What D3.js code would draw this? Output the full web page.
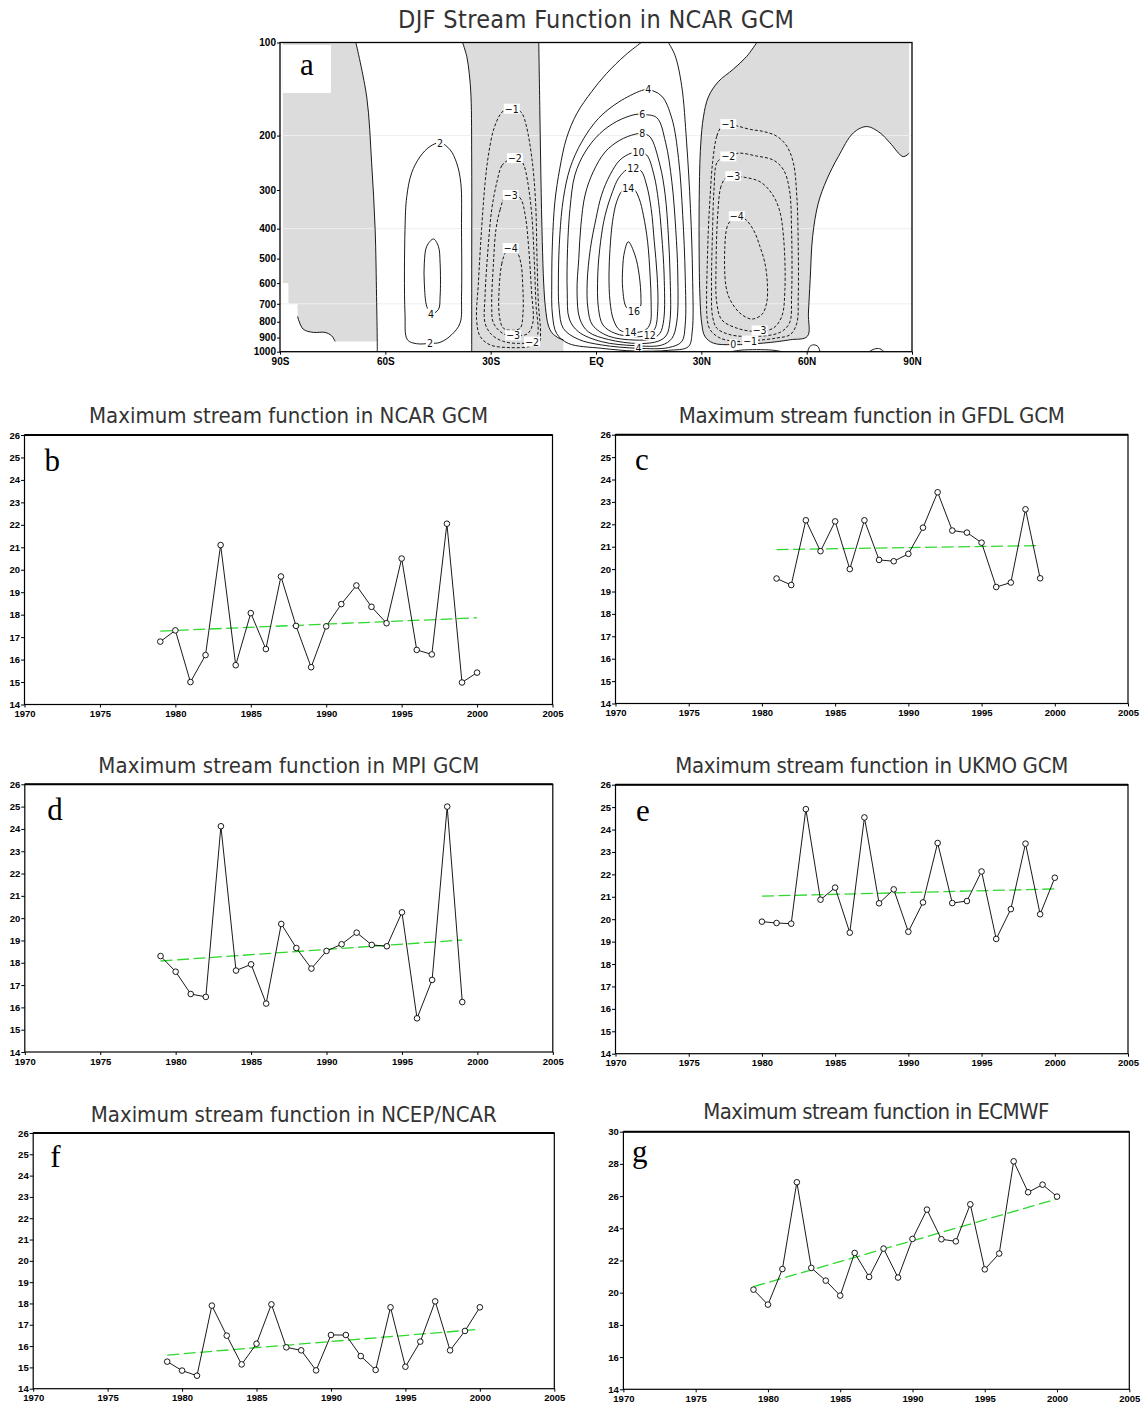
<!DOCTYPE html>
<html>
<head>
<meta charset="utf-8">
<script src="https://cdn.jsdelivr.net/npm/d3@7"></script>
<style>
  body { margin: 0; background: #fff; }
  svg { display: block; }
</style>
</head>
<body>
<svg id="chart" width="1143" height="1406"></svg>
<script>
// ---------------------------------------------------------------
// Panel a: DJF zonal-mean stream function (lat, hPa) contour traces
// ---------------------------------------------------------------
const latTicks = [-90, -60, -30, 0, 30, 60, 90];
const latTickLabels = ["90S", "60S", "30S", "EQ", "30N", "60N", "90N"];
const pressureTicks = [100, 200, 300, 400, 500, 600, 700, 800, 900, 1000];
const pressureGrid = [200, 400, 700];

// zero lines
const shPolarZero = [[-68.4,100],[-65.3,150],[-63.9,245],[-62.9,403],[-62.5,662],[-62.3,926],[-62.3,1000]];
const shPolarSurface = [[-85.0,769],[-83.4,845],[-80.5,866],[-77.2,866],[-75.3,888],[-74.3,926]];
const shPolarTerrain = [[-85.0,700],[-87.6,700],[-87.6,600],[-89.2,600],[-89.2,100]];
const sh30Left = [[-38.0,100],[-36.8,111],[-36.1,126],[-35.6,150],[-35.4,245],[-35.4,600],[-35.4,1000]];
const sh30Right = [[-16.3,100],[-16.0,165],[-15.7,270],[-15.3,440],[-14.9,600],[-14.4,720],[-13.6,820],[-12.5,870],[-10.5,905],[-9.3,915]];
const sh30Surface = [[-9.3,1000]];
const nhZero = [[45.8,100],[42.9,111],[39.1,122],[34.8,134],[32.0,150],[30.6,174],[29.8,216],[29.4,315],[29.4,517],[29.6,662],[30.1,808],[31.0,892],[33.4,938],[39.1,949],[47.7,938],[55.3,915],[60.2,892],[60.5,750],[61.0,585],[61.7,424],[63.3,331],[65.7,278],[69.0,234],[73.3,196],[77.1,187],[80.9,196],[83.7,211],[87.5,234],[89.2,228]];
const nhPoleEdge = [[89.2,100]];
const nhSurface1 = [[60.3,1000],[60.9,962],[62.0,950],[63.2,962],[63.8,1000]];
const nhSurface2 = [[77.8,1000],[79.3,980],[80.8,978],[82.0,1000]];
const nhSurface3 = [[38.5,1000],[41.5,988],[50.0,988],[53.0,1000]];

// southern positive cell
const sh2 = [[-51.1,942],[-53.7,915],[-54.4,750],[-54.4,403],[-53.9,315],[-52.5,264],[-50.1,234],[-47.3,217],[-44.4,211],[-41.6,222],[-39.7,245],[-38.5,285],[-38.3,403],[-38.3,662],[-38.7,807],[-41.1,881],[-44.4,933],[-47.3,940]];
const sh4 = [[-46.3,432],[-44.9,456],[-44.4,517],[-44.4,662],[-44.9,731],[-47.0,754],[-48.2,714],[-48.9,600],[-48.9,517],[-48.2,456]];

// southern subtropical negative cell
const sh30m1 = [[-25.9,165],[-27.3,171],[-29.2,192],[-30.7,234],[-31.6,285],[-32.6,403],[-33.5,600],[-34.0,788],[-33.0,892],[-30.2,950],[-24.5,970],[-18.8,962],[-16.2,935],[-15.8,870],[-16.4,700],[-16.8,500],[-17.2,330],[-18.2,240],[-19.8,187],[-21.0,170],[-22.2,165],[-24.0,164]];
const sh30m2 = [[-25.0,240],[-26.8,250],[-28.3,285],[-29.7,347],[-30.7,457],[-31.6,662],[-31.6,808],[-29.7,881],[-26.4,926],[-22.1,940],[-17.8,926],[-16.6,880],[-17.1,700],[-17.6,500],[-18.3,360],[-19.5,280],[-20.5,250],[-21.5,240],[-23.1,237]];
const sh30m3 = [[-25.9,315],[-27.3,347],[-28.5,403],[-29.2,517],[-29.7,714],[-29.2,808],[-26.4,875],[-23.1,888],[-19.5,875],[-18.0,808],[-18.4,630],[-19.2,457],[-20.1,365],[-21.3,322],[-22.6,312],[-24.3,312]];
const sh30m4 = [[-25.6,474],[-26.8,517],[-27.6,630],[-27.5,769],[-26.4,839],[-24.0,853],[-21.6,839],[-20.8,750],[-20.9,600],[-21.4,517],[-22.6,474],[-24.3,463]];

// Hadley cell (positive)
const hadley2 = [[12.9,100],[8.3,110],[3.0,126],[-1.2,144],[-5.5,170],[-8.4,204],[-10.3,255],[-11.7,327],[-12.4,441],[-12.6,595],[-12.4,761],[-11.2,874],[-7.9,940],[1.6,975],[11.1,995],[20.6,990],[26.3,963],[27.4,862],[27.5,565],[26.9,344],[25.8,210],[24.4,138],[22.5,110],[20.6,100]];
const hadley4 = [[13.0,143],[6.4,156],[0.7,176],[-4.1,210],[-7.4,255],[-9.3,320],[-10.3,419],[-10.7,565],[-10.5,724],[-9.3,841],[-5.0,912],[1.6,951],[12.1,975],[20.6,970],[24.4,928],[25.4,820],[25.4,565],[24.7,362],[23.5,237],[21.6,176],[18.7,149],[14.9,142]];
const hadley6 = [[11.1,171],[5.9,180],[1.1,197],[-3.1,226],[-6.0,268],[-7.4,344],[-8.1,464],[-8.2,640],[-7.6,784],[-5.0,862],[1.6,928],[11.1,956],[18.7,952],[21.6,906],[23.0,802],[23.3,565],[22.7,400],[21.6,282],[19.8,210],[17.3,175],[13.2,171]];
const hadley8 = [[11.1,198],[6.8,207],[2.6,226],[-0.8,262],[-3.1,311],[-4.3,390],[-4.9,499],[-5.4,640],[-4.6,784],[-2.2,862],[3.5,913],[12.1,941],[17.8,924],[20.1,883],[21.1,787],[21.1,565],[20.6,419],[19.7,311],[18.2,249],[15.4,202],[13.2,197]];
const hadley10 = [[10.0,228],[6.8,240],[4.0,268],[1.6,311],[0.0,371],[-1.6,464],[-2.5,595],[-2.3,724],[-1.0,820],[3.5,890],[11.1,917],[15.9,908],[18.2,872],[19.3,787],[19.4,565],[18.7,419],[17.8,327],[16.5,268],[14.4,231],[12.1,226]];
const hadley12 = [[8.7,258],[6.4,275],[4.7,304],[2.6,362],[1.3,441],[0.5,565],[0.7,724],[2.0,820],[5.4,872],[11.1,894],[14.9,883],[16.8,841],[17.6,724],[17.4,565],[16.6,441],[15.7,344],[14.4,289],[12.8,260],[10.6,255]];
const hadley14 = [[7.5,301],[5.9,327],[4.7,380],[4.0,464],[3.7,565],[4.0,689],[5.0,790],[6.8,852],[10.6,867],[14.0,852],[15.4,812],[15.7,689],[15.4,565],[14.7,441],[13.5,362],[12.3,320],[10.9,299],[9.2,295]];
const hadley16 = [[9.2,441],[11.1,487],[12.3,565],[12.8,672],[12.6,715],[10.8,740],[8.7,720],[7.6,625],[7.6,537],[8.1,476]];

// northern negative (Ferrel) cell
const nhm1 = [[35.8,187],[34.4,201],[33.2,245],[32.5,315],[32.0,403],[31.7,517],[31.5,662],[31.7,788],[32.5,849],[35.3,903],[40.1,926],[45.8,919],[51.5,903],[55.3,881],[57.2,808],[57.6,662],[57.6,457],[57.2,315],[56.2,245],[54.3,216],[51.5,201],[47.7,194],[43.9,191],[40.1,186],[37.7,184]];
const nhm2 = [[35.8,237],[34.4,245],[33.6,300],[33.2,403],[32.9,613],[33.2,769],[34.4,839],[38.2,881],[45.8,892],[52.4,866],[55.1,808],[55.7,662],[55.7,403],[55.1,300],[53.4,258],[50.5,240],[45.8,233],[40.5,228],[37.7,234]];
const nhm3 = [[37.0,274],[35.6,292],[34.7,356],[34.2,517],[34.4,696],[35.8,788],[40.1,839],[45.8,860],[50.5,839],[52.9,769],[53.8,630],[53.4,424],[52.2,347],[50.0,307],[46.7,282],[42.4,273],[39.1,271]];
const nhm4 = [[38.6,374],[37.4,393],[36.7,457],[37.0,613],[38.2,679],[41.0,750],[44.3,784],[47.2,759],[48.6,696],[48.8,600],[48.1,517],[46.7,457],[44.8,403],[42.4,372],[40.1,365]];

// contour labels: [text, lat, hPa]
const contourLabels = [
  ["2",-44.4,211],["4",-47.0,754],["2",-47.3,940],
  ["\u22121",-24.0,164],["\u22122",-23.1,237],["\u22123",-24.3,312],["\u22124",-24.3,463],["\u22123",-23.6,886],["\u22122",-18.2,929],
  ["4",14.9,142],["6",13.2,171],["8",13.2,197],["10",12.1,226],["12",10.6,255],["14",9.2,295],["16",10.8,740],["14",9.8,866],["12",15.3,884],["4",12.1,975],
  ["\u22121",37.7,184],["\u22122",37.7,234],["\u22123",39.1,271],["\u22124",40.1,365],["0",39.1,949],["\u22121",43.9,922],["\u22123",46.6,855]
];

// ---------------------------------------------------------------
// Panels b-g: yearly maximum stream function
// ---------------------------------------------------------------
const years1979to2000 = [1979,1980,1981,1982,1983,1984,1985,1986,1987,1988,1989,1990,1991,1992,1993,1994,1995,1996,1997,1998,1999,2000];
const years1981to1999 = [1981,1982,1983,1984,1985,1986,1987,1988,1989,1990,1991,1992,1993,1994,1995,1996,1997,1998,1999];
const years1979to1999 = [1979,1980,1981,1982,1983,1984,1985,1986,1987,1988,1989,1990,1991,1992,1993,1994,1995,1996,1997,1998,1999];
const years1980to2000 = [1980,1981,1982,1983,1984,1985,1986,1987,1988,1989,1990,1991,1992,1993,1994,1995,1996,1997,1998,1999,2000];

const ncarGcm = [16.8,17.3,15.0,16.2,21.1,15.75,18.07,16.47,19.7,17.5,15.66,17.48,18.47,19.3,18.35,17.62,20.5,16.43,16.23,22.05,14.98,15.42];
const gfdlGcm = [19.58,19.29,22.18,20.8,22.13,20.0,22.18,20.41,20.35,20.68,21.85,23.43,21.72,21.63,21.18,19.2,19.4,22.67,19.59];
const mpiGcm = [18.3,17.6,16.6,16.47,24.12,17.65,17.93,16.17,19.74,18.66,17.74,18.53,18.83,19.35,18.8,18.74,20.26,15.51,17.23,25.0,16.24];
const ukmoGcm = [19.89,19.83,19.8,24.91,20.87,21.41,19.4,24.54,20.71,21.33,19.44,20.75,23.4,20.72,20.81,22.13,19.12,20.45,23.37,20.22,21.85];
const ncepNcar = [15.27,14.85,14.61,17.9,16.49,15.14,16.11,17.96,15.94,15.8,14.86,16.52,16.52,15.53,14.88,17.82,15.03,16.21,18.1,15.8,16.71,17.82];
const ecmwf = [20.19,19.26,21.47,26.86,21.54,20.75,19.82,22.47,20.98,22.74,20.94,23.34,25.16,23.32,23.19,25.49,21.45,22.43,28.16,26.24,26.71,25.97];

// linear trend end points [year, value]
const trendNcarGcm = [[1979,17.27],[2000,17.86]];
const trendGfdlGcm = [[1981,20.87],[1999,21.05]];
const trendMpiGcm = [[1979,18.08],[1999,19.02]];
const trendUkmoGcm = [[1980,21.03],[2000,21.35]];
const trendNcepNcar = [[1979,15.58],[2000,16.79]];
const trendEcmwf = [[1979,20.38],[2000,25.82]];

const yearTicks = [1970,1975,1980,1985,1990,1995,2000,2005];
const valueTicks26 = [14,15,16,17,18,19,20,21,22,23,24,25,26];
const valueTicks30 = [14,16,18,20,22,24,26,28,30];

// ---------------------------------------------------------------
const svg = d3.select("#chart");
svg.append("rect").attr("width", 1143).attr("height", 1406).attr("fill", "#fff");
const defs = svg.append("defs");

const TITLE_FONT = "'Liberation Sans Narrow','DejaVu Sans Condensed','Liberation Sans',Arial,sans-serif";
const TICK_FONT = "'Liberation Sans',Arial,sans-serif";
const LETTER_FONT = "'Liberation Serif','Times New Roman',serif";
const SHADE = "#dcdcdc";

function drawTitle(text, cx, baseline, width, size) {
  svg.append("text")
    .attr("x", cx).attr("y", baseline)
    .attr("text-anchor", "middle")
    .attr("font-family", TITLE_FONT)
    .attr("font-size", size)
    .attr("font-weight", 300)
    .attr("fill", "#333")
    .attr("textLength", width)
    .attr("lengthAdjust", "spacing")
    .text(text);
}

// ---------------- Panel a ----------------
(function drawStreamFunction() {
  const box = {x0: 280, x1: 912, y0: 42.5, y1: 351.7};
  const x = d3.scaleLinear().domain([-90, 90]).range([box.x0, box.x1]);
  const y = d3.scaleLog().domain([100, 1000]).range([box.y0, box.y1]);

  drawTitle("DJF Stream Function in NCAR GCM", (box.x0 + box.x1) / 2, 28.3, 396, 25);

  defs.append("clipPath").attr("id", "clipA")
    .append("rect").attr("x", box.x0).attr("y", box.y0)
    .attr("width", box.x1 - box.x0).attr("height", box.y1 - box.y0);

  const g = svg.append("g");
  const plot = g.append("g").attr("clip-path", "url(#clipA)");

  const smooth = d3.line().x(d => x(d[0])).y(d => y(d[1])).curve(d3.curveCatmullRom.alpha(0.5));
  const loop = d3.line().x(d => x(d[0])).y(d => y(d[1])).curve(d3.curveCatmullRomClosed.alpha(0.5));
  const straight = d3.line().x(d => x(d[0])).y(d => y(d[1]));

  // join several boundary pieces into one closed outline
  function outline(parts) {
    return parts.map((p, i) => {
      const s = p[1](p[0]).replace(/Z/g, "");
      return i ? "L" + s.slice(1) : s;
    }).join("") + "Z";
  }

  // negative regions shaded
  const polarTop = shPolarZero.slice(0, shPolarZero.length - 1);
  plot.append("path").attr("fill", SHADE)
    .attr("d", outline([
      [polarTop, smooth],
      [shPolarSurface.slice().reverse(), smooth],
      [shPolarTerrain, straight]
    ]));
  plot.append("path").attr("fill", SHADE)
    .attr("d", outline([
      [sh30Left, smooth],
      [sh30Surface, straight],
      [sh30Right.slice().reverse(), smooth]
    ]));
  plot.append("path").attr("fill", SHADE)
    .attr("d", outline([[nhZero, smooth], [nhPoleEdge, straight]]));

  // faint pressure guide lines
  plot.selectAll("line.grid").data(pressureGrid).join("line")
    .attr("class", "grid")
    .attr("x1", box.x0).attr("x2", box.x1)
    .attr("y1", d => y(d)).attr("y2", d => y(d))
    .attr("stroke", "#efefef").attr("stroke-width", 1);

  // solid (zero / positive) open lines
  const openSolid = [shPolarZero, shPolarSurface, sh30Left, sh30Right, nhZero, hadley2, nhSurface1, nhSurface2, nhSurface3];
  plot.selectAll("path.open").data(openSolid).join("path")
    .attr("class", "open")
    .attr("d", smooth).attr("fill", "none")
    .attr("stroke", "#000").attr("stroke-width", 0.9);

  // solid closed loops
  const loopsSolid = [sh2, sh4, hadley4, hadley6, hadley8, hadley10, hadley12, hadley14, hadley16];
  plot.selectAll("path.pos").data(loopsSolid).join("path")
    .attr("class", "pos")
    .attr("d", loop).attr("fill", "none")
    .attr("stroke", "#000").attr("stroke-width", 0.9);

  // dashed negative loops
  const loopsDashed = [sh30m1, sh30m2, sh30m3, sh30m4, nhm1, nhm2, nhm3, nhm4];
  plot.selectAll("path.neg").data(loopsDashed).join("path")
    .attr("class", "neg")
    .attr("d", loop).attr("fill", "none")
    .attr("stroke", "#000").attr("stroke-width", 0.9)
    .attr("stroke-dasharray", "3,2");

  // contour labels on white patches
  const lab = plot.selectAll("g.clab").data(contourLabels).join("g")
    .attr("class", "clab")
    .attr("transform", d => `translate(${x(d[1])},${y(d[2])})`);
  lab.append("text")
    .attr("text-anchor", "middle").attr("dy", "0.36em")
    .attr("font-family", TITLE_FONT).attr("font-size", 10.5)
    .attr("fill", "#111")
    .text(d => d[0]);
  lab.each(function() {
    const t = d3.select(this).select("text");
    const b = t.node().getBBox();
    d3.select(this).insert("rect", "text")
      .attr("x", b.x - 1).attr("y", b.y + 1)
      .attr("width", b.width + 2).attr("height", b.height - 2)
      .attr("fill", "#fff");
  });

  // panel letter on white box
  g.append("rect").attr("x", box.x0 + 3).attr("y", box.y0 + 2.5)
    .attr("width", 48).attr("height", 48).attr("fill", "#fff");
  g.append("text").attr("x", box.x0 + 20).attr("y", box.y0 + 32.5)
    .attr("font-family", LETTER_FONT).attr("font-size", 31).text("a");

  // axes
  const ax = g.append("g").attr("transform", `translate(0,${box.y1})`)
    .call(d3.axisBottom(x).tickValues(latTicks).tickSize(3).tickPadding(3)
      .tickFormat((d, i) => latTickLabels[i]));
  const ay = g.append("g").attr("transform", `translate(${box.x0},0)`)
    .call(d3.axisLeft(y).tickValues(pressureTicks).tickSize(3).tickPadding(1)
      .tickFormat(d3.format("d")));
  [ax, ay].forEach(a => {
    a.select(".domain").remove();
    a.attr("font-family", TICK_FONT).attr("font-size", 10).attr("font-weight", "bold");
    a.selectAll("line").attr("stroke", "#000");
    a.selectAll("text").attr("fill", "#000");
  });

  g.append("rect").attr("x", box.x0).attr("y", box.y0)
    .attr("width", box.x1 - box.x0).attr("height", box.y1 - box.y0)
    .attr("fill", "none").attr("stroke", "#000").attr("stroke-width", 1.3);
})();

// ---------------- Panels b-g ----------------
const panels = [
  {letter: "b", title: "Maximum stream function in NCAR GCM", years: years1979to2000, values: ncarGcm, trend: trendNcarGcm,
   ticks: valueTicks26, box: {x0: 24.5, x1: 552.5, y0: 435, y1: 704.5}, titleY: 423.3, titleW: 399, letterAt: [20, 35.5]},
  {letter: "c", title: "Maximum stream function in GFDL GCM", years: years1981to1999, values: gfdlGcm, trend: trendGfdlGcm,
   ticks: valueTicks26, box: {x0: 615.5, x1: 1128, y0: 434.7, y1: 703.5}, titleY: 423.3, titleW: 386, letterAt: [19.5, 35.5]},
  {letter: "d", title: "Maximum stream function in MPI GCM", years: years1979to1999, values: mpiGcm, trend: trendMpiGcm,
   ticks: valueTicks26, box: {x0: 24.8, x1: 552.8, y0: 784.3, y1: 1052}, titleY: 772.7, titleW: 381, letterAt: [22.5, 35.7]},
  {letter: "e", title: "Maximum stream function in UKMO GCM", years: years1980to2000, values: ukmoGcm, trend: trendUkmoGcm,
   ticks: valueTicks26, box: {x0: 615.5, x1: 1128, y0: 784.7, y1: 1053.7}, titleY: 773, titleW: 393, letterAt: [20.5, 36]},
  {letter: "f", title: "Maximum stream function in NCEP/NCAR", years: years1979to2000, values: ncepNcar, trend: trendNcepNcar,
   ticks: valueTicks26, box: {x0: 33.2, x1: 554.3, y0: 1133, y1: 1388.7}, titleY: 1122, titleW: 406, letterAt: [17, 33.7]},
  {letter: "g", title: "Maximum stream function in ECMWF", years: years1979to2000, values: ecmwf, trend: trendEcmwf,
   ticks: valueTicks30, box: {x0: 623.4, x1: 1129.3, y0: 1131.7, y1: 1389.3}, titleY: 1119.3, titleW: 346, letterAt: [8.6, 30.5]}
];

panels.forEach(p => {
  const b = p.box;
  const x = d3.scaleLinear().domain([1970, 2005]).range([b.x0, b.x1]);
  const y = d3.scaleLinear().domain([p.ticks[0], p.ticks[p.ticks.length - 1]]).range([b.y1, b.y0]);
  const g = svg.append("g");

  drawTitle(p.title, (b.x0 + b.x1) / 2, p.titleY, p.titleW, 22);

  // axes
  const ax = g.append("g").attr("transform", `translate(0,${b.y1})`)
    .call(d3.axisBottom(x).tickValues(yearTicks).tickSize(3).tickPadding(3).tickFormat(d3.format("d")));
  const ay = g.append("g").attr("transform", `translate(${b.x0},0)`)
    .call(d3.axisLeft(y).tickValues(p.ticks).tickSize(3.5).tickPadding(1).tickFormat(d3.format("d")));
  [ax, ay].forEach(a => {
    a.select(".domain").remove();
    a.attr("font-family", TICK_FONT).attr("font-size", 9.5).attr("font-weight", "bold");
    a.selectAll("line").attr("stroke", "#000");
    a.selectAll("text").attr("fill", "#000");
  });

  // frame
  g.append("rect").attr("x", b.x0).attr("y", b.y0)
    .attr("width", b.x1 - b.x0).attr("height", b.y1 - b.y0)
    .attr("fill", "none").attr("stroke", "#000").attr("stroke-width", 1.2);
  g.append("line").attr("x1", b.x0).attr("x2", b.x1).attr("y1", b.y0).attr("y2", b.y0)
    .attr("stroke", "#000").attr("stroke-width", 2);

  // letter
  g.append("text").attr("x", b.x0 + p.letterAt[0]).attr("y", b.y0 + p.letterAt[1])
    .attr("font-family", LETTER_FONT).attr("font-size", 31).attr("fill", "#000")
    .text(p.letter);

  const pts = p.years.map((yr, i) => [yr, p.values[i]]);

  // trend
  g.append("path")
    .attr("d", d3.line().x(d => x(d[0])).y(d => y(d[1]))(p.trend))
    .attr("fill", "none").attr("stroke", "#2ed82e").attr("stroke-width", 1.3)
    .attr("stroke-dasharray", "12,4.5");

  // series
  g.append("path")
    .attr("d", d3.line().x(d => x(d[0])).y(d => y(d[1]))(pts))
    .attr("fill", "none").attr("stroke", "#000").attr("stroke-width", 0.9);
  g.selectAll("circle").data(pts).join("circle")
    .attr("cx", d => x(d[0])).attr("cy", d => y(d[1])).attr("r", 2.8)
    .attr("fill", "#fff").attr("stroke", "#000").attr("stroke-width", 0.9);
});
</script>
</body>
</html>
